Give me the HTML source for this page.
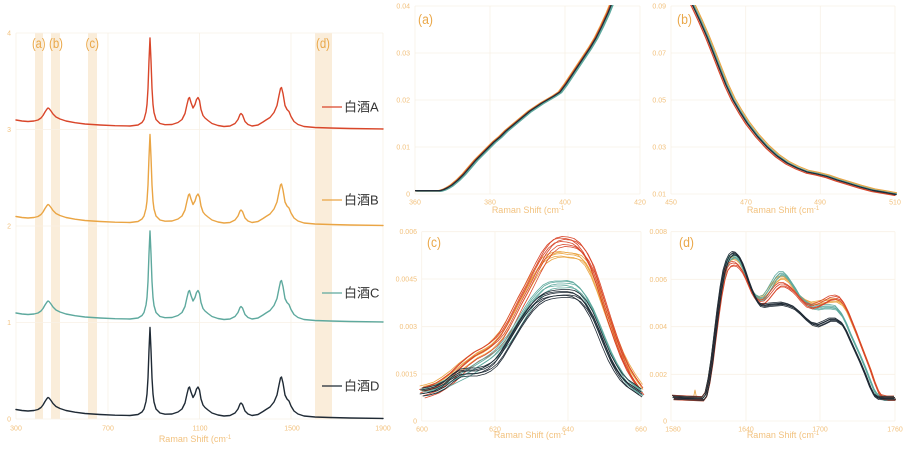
<!DOCTYPE html>
<html><head><meta charset="utf-8"><style>
html,body{margin:0;padding:0;background:#fff;}
svg{display:block;}
text{font-family:"Liberation Sans","Noto Sans CJK SC",sans-serif;}
.tk{font-size:7px;fill:#f2c27f;}
.ti{font-size:9px;fill:#f2c27f;}
.pl{font-size:13.5px;fill:#eaa84a;}
.lg{font-size:13px;fill:#333;}
.g{stroke:#f8f1e6;stroke-width:0.8;fill:none;}
.s{fill:none;stroke-linejoin:round;stroke-linecap:round;}
.t{fill:none;stroke-width:0.8;stroke-linejoin:round;}
</style></head><body>
<svg width="907" height="449" viewBox="0 0 907 449" xmlns="http://www.w3.org/2000/svg">
<defs>
<path id="sp" d="M16,-9.5 L22,-8.5 L28,-8 L34,-8.5 L38,-9.5 L41,-11.5 L43,-14 L45,-17.5 L47,-20.5 L48,-21.5 L49,-21 L51,-18.5 L53,-15.5 L56,-12.5 L60,-10.5 L66,-8.5 L75,-6.8 L85,-5.5 L100,-4.5 L115,-3.8 L130,-3.5 L138,-4.5 L142,-7 L144,-10 L146,-17.5 L147,-25 L148,-41 L149,-69 L150,-91.5 L151,-69 L152,-41 L153,-25 L154,-17 L156,-10 L160,-6 L165,-4.8 L172,-5 L178,-7 L182,-10 L185,-16 L187,-25 L188.5,-31 L189.5,-32 L191,-27 L193,-21.5 L195,-25 L196.5,-30 L198,-32 L199.5,-29 L201,-20 L203,-14 L205,-11.5 L208,-9 L212,-6 L218,-4 L224,-3 L230,-3.5 L235,-6 L238,-10 L240,-15 L241,-16 L242.5,-14.5 L245,-8 L248,-5 L252,-3.5 L258,-4.5 L263,-7.5 L266,-9.5 L270,-12 L274,-17 L277,-24 L279,-34 L280.5,-41 L281.5,-42 L283,-36 L285,-24 L287,-20 L289,-18 L291,-13 L294,-8 L298,-5 L304,-3 L315,-2 L330,-1.5 L350,-1 L383,-0.5"/>
<path id="pa" d="M415,190.7 L440,190.7 L444,189.5 L448,187.5 L452,185 L458,180 L464,174 L470,167 L476,160 L482,154 L488,148 L494,142 L500,137 L506,131 L512,126 L518,121 L524,116 L530,111 L536,107 L542,103 L548,99.5 L554,96 L560,92 L566,84 L572,75 L578,66 L584,57 L590,48 L596,38 L602,26 L608,13 L612,3"/>
<path id="pb" d="M691,2 L693,6 L700,21 L707,37 L713,52 L720,70 L726,85 L733,100 L740,112 L747,123 L757,136 L767,147 L777,156 L787,163 L797,168 L807,172 L817,174 L827,176.5 L837,180 L847,183 L860,187 L873,190.5 L885,192.5 L896,194.5"/>
<path id="cR" vector-effect="non-scaling-stroke" d="M421.7,388 L428,386 L436,383 L444,378 L452,372 L460,364 L468,357 L476,351 L484,347 L490,343 L496,338 L502,331 L508,321 L514,309 L520,297 L526,286 L532,274 L538,262 L544,251 L550,243 L556,238 L562,236.5 L568,237 L574,238.5 L580,243 L586,251 L592,263 L598,280 L604,299 L610,318 L616,336 L622,352 L628,365 L634,375 L641,385"/>
<path id="cO" vector-effect="non-scaling-stroke" d="M421.7,388 L428,386.5 L436,384 L444,379 L452,373 L460,366 L468,360 L476,354 L484,350 L490,346 L496,340 L502,333 L508,323 L514,312 L520,300 L526,289 L532,278 L538,268 L544,260 L550,256 L556,254 L562,253.5 L568,254.5 L574,255 L580,257 L586,263 L592,274 L598,289 L604,306 L610,323 L616,339 L622,354 L628,366 L634,376 L641,386"/>
<path id="cT" vector-effect="non-scaling-stroke" d="M421.7,390 L428,389 L436,386 L444,382 L452,378 L460,374 L468,370 L476,365 L484,360 L490,356 L496,351 L502,344 L508,337 L514,328 L520,318 L526,308 L532,299 L538,292 L544,286 L550,283 L556,282 L562,282 L568,281.5 L574,283 L580,288 L586,296 L592,307 L598,321 L604,336 L610,350 L616,362 L622,372 L628,380 L634,385 L641,390"/>
<path id="cD" vector-effect="non-scaling-stroke" d="M421.7,391 L428,390 L436,388 L444,384 L452,377 L460,372 L468,371 L476,371 L484,369 L490,366 L496,361 L502,353 L508,343 L514,333 L520,323 L526,314 L532,306 L538,300 L544,296 L550,294 L556,293 L562,292.5 L568,292.5 L574,293.5 L580,297 L586,304 L592,314 L598,328 L604,343 L610,357 L616,368 L622,377 L628,383 L634,387 L641,392"/>
<path id="dD" vector-effect="non-scaling-stroke" d="M673,396.7 L690,397.5 L703,398 L706,394 L709,380 L712,360 L715,335 L718,310 L721,288 L724,271 L727,261 L730,255 L733,252.5 L736,253 L739,256 L742,262 L745,270 L748,279 L751,287 L754,294 L757,300 L760,304 L764,305 L770,304 L776,303.5 L782,303 L788,304.5 L794,307 L800,312 L806,318 L812,323 L818,324.5 L824,322 L830,319 L836,319 L842,323 L846,330 L850,339 L855,350 L860,361 L865,373 L870,386 L874,394 L878,397 L885,397.5 L895,397.5"/>
<path id="dT" vector-effect="non-scaling-stroke" d="M673,396.7 L690,397.5 L703,398 L706,394 L709,380 L712,360 L715,336 L718,312 L721,290 L724,274 L727,263 L730,257 L733,255.5 L736,256 L739,259 L742,265 L745,273 L748,281 L751,288 L754,293 L757,296.5 L760,298 L764,297 L768,291 L772,284 L776,277 L780,273 L784,273 L788,277 L792,283 L796,289 L800,296 L806,302 L812,306 L818,307 L824,306 L830,306 L836,307 L842,314 L846,322 L850,332 L855,343 L860,354 L865,366 L870,379 L874,389 L878,395 L884,397.5 L895,397.5"/>
<path id="dO" vector-effect="non-scaling-stroke" d="M673,396.7 L690,397.5 L703,398 L706,394 L709,380 L712,360 L715,336 L718,312 L721,291 L724,275 L727,264 L730,258 L733,257 L736,258 L739,261 L742,266 L745,273 L748,281 L751,288 L754,293 L757,296 L760,297.5 L764,296 L768,291 L772,285 L776,280 L780,277 L784,277 L788,280 L792,285 L796,291 L800,296 L806,300.5 L812,303 L818,302 L824,301 L830,300 L836,299.5 L842,303 L846,309 L850,318 L855,330 L860,342 L865,355 L870,368 L874,380 L878,390 L882,396 L888,397.5 L895,397.5"/>
<path id="dR" vector-effect="non-scaling-stroke" d="M673,396.7 L690,397.5 L703,398 L706,394 L709,381 L712,362 L715,338 L718,315 L721,294 L724,278 L727,268 L730,264 L733,263 L736,263.5 L739,266 L742,270 L745,276 L748,283 L751,290 L754,295 L757,299 L760,301.5 L764,301 L768,297 L772,292 L776,287 L780,284 L784,284 L788,286 L792,289 L796,293 L800,298 L806,304 L812,306 L818,304 L824,301 L830,297.5 L836,296.5 L840,298 L844,303 L848,311 L852,321 L856,331 L860,342 L865,355 L870,368 L874,380 L878,390 L882,396 L888,397.5 L895,397.5"/>
<clipPath id="ca"><rect x="415" y="5" width="226" height="191"/></clipPath>
<clipPath id="cb"><rect x="671" y="5" width="226" height="191"/></clipPath>
</defs>

<!-- LEFT PANEL -->
<rect x="35" y="33" width="8" height="386" fill="#faedda"/>
<rect x="51" y="33" width="9" height="386" fill="#faedda"/>
<rect x="88" y="33" width="9" height="386" fill="#faedda"/>
<rect x="315" y="33" width="17" height="386" fill="#faedda"/>
<g class="g">
<line x1="16" y1="33" x2="383" y2="33"/><line x1="16" y1="129.5" x2="383" y2="129.5"/><line x1="16" y1="226" x2="383" y2="226"/><line x1="16" y1="322.5" x2="383" y2="322.5"/><line x1="16" y1="419" x2="383" y2="419"/>
<line x1="16" y1="33" x2="16" y2="419"/><line x1="108" y1="33" x2="108" y2="419"/><line x1="199.5" y1="33" x2="199.5" y2="419"/><line x1="291" y1="33" x2="291" y2="419"/><line x1="383" y1="33" x2="383" y2="419"/>
</g>
<text class="pl" x="32" y="48" textLength="13.5" lengthAdjust="spacingAndGlyphs">(a)</text>
<text class="pl" x="49" y="48" textLength="14" lengthAdjust="spacingAndGlyphs">(b)</text>
<text class="pl" x="85.5" y="48" textLength="13.5" lengthAdjust="spacingAndGlyphs">(c)</text>
<text class="pl" x="316" y="48" textLength="14" lengthAdjust="spacingAndGlyphs">(d)</text>
<use href="#sp" class="s" stroke="#d9462a" stroke-width="1.4" transform="translate(0,129.5)"/>
<use href="#sp" class="s" stroke="#eaa544" stroke-width="1.4" transform="translate(0,226)"/>
<use href="#sp" class="s" stroke="#5ea99e" stroke-width="1.4" transform="translate(0,322.5)"/>
<use href="#sp" class="s" stroke="#1f2a35" stroke-width="1.4" transform="translate(0,419)"/>
<g class="tk" text-anchor="end">
<text x="11" y="35.5">4</text><text x="11" y="132">3</text><text x="11" y="228.5">2</text><text x="11" y="325">1</text><text x="11" y="421.5">0</text>
</g>
<g class="tk" text-anchor="middle">
<text x="16" y="430.5">300</text><text x="108" y="430.5">700</text><text x="200" y="430.5">1100</text><text x="292" y="430.5">1500</text><text x="383" y="430.5">1900</text>
</g>
<text class="ti" x="195" y="442" text-anchor="middle">Raman Shift (cm<tspan font-size="6" dy="-3">-1</tspan></text>
<line x1="322" y1="107" x2="342" y2="107" stroke="#d9462a" stroke-width="1.3"/>
<text class="lg" x="344" y="111.5">白酒A</text>
<line x1="322" y1="200" x2="342" y2="200" stroke="#eaa544" stroke-width="1.3"/>
<text class="lg" x="344" y="204.5">白酒B</text>
<line x1="322" y1="293" x2="342" y2="293" stroke="#5ea99e" stroke-width="1.3"/>
<text class="lg" x="344" y="297.5">白酒C</text>
<line x1="322" y1="386" x2="342" y2="386" stroke="#1f2a35" stroke-width="1.3"/>
<text class="lg" x="344" y="390.5">白酒D</text>

<!-- PANEL (a) -->
<g class="g">
<line x1="415" y1="6" x2="640" y2="6"/><line x1="415" y1="53" x2="640" y2="53"/><line x1="415" y1="100" x2="640" y2="100"/><line x1="415" y1="147" x2="640" y2="147"/><line x1="415" y1="194" x2="640" y2="194"/>
<line x1="415" y1="6" x2="415" y2="194"/><line x1="490" y1="6" x2="490" y2="194"/><line x1="565" y1="6" x2="565" y2="194"/><line x1="640" y1="6" x2="640" y2="194"/>
</g>
<g clip-path="url(#ca)">
<use href="#pa" class="s" stroke="#5ea99e" stroke-width="1.2" transform="translate(1.6,0.6)"/>
<use href="#pa" class="s" stroke="#5ea99e" stroke-width="1" transform="translate(1,0.3)"/>
<use href="#pa" class="s" stroke="#eaa544" stroke-width="1.2" transform="translate(-1.8,0)"/>
<use href="#pa" class="s" stroke="#eaa544" stroke-width="1" transform="translate(-1.2,0)"/>
<use href="#pa" class="s" stroke="#d9462a" stroke-width="1" transform="translate(-1,0)"/>
<use href="#pa" class="s" stroke="#1f2a35" stroke-width="1.3"/>
</g>
<text class="pl" x="418" y="24" textLength="15" lengthAdjust="spacingAndGlyphs">(a)</text>
<g class="tk" text-anchor="end">
<text x="410" y="8.5">0.04</text><text x="410" y="55.5">0.03</text><text x="410" y="102.5">0.02</text><text x="410" y="149.5">0.01</text><text x="410" y="196.5">0</text>
</g>
<g class="tk" text-anchor="middle">
<text x="415" y="204.5">360</text><text x="490" y="204.5">380</text><text x="565" y="204.5">400</text><text x="640" y="204.5">420</text>
</g>
<text class="ti" x="528" y="213" text-anchor="middle">Raman Shift (cm<tspan font-size="6" dy="-3">-1</tspan></text>

<!-- PANEL (b) -->
<g class="g">
<line x1="671" y1="6" x2="895" y2="6"/><line x1="671" y1="53" x2="895" y2="53"/><line x1="671" y1="100" x2="895" y2="100"/><line x1="671" y1="147" x2="895" y2="147"/><line x1="671" y1="194" x2="895" y2="194"/>
<line x1="671" y1="6" x2="671" y2="194"/><line x1="745.7" y1="6" x2="745.7" y2="194"/><line x1="820.3" y1="6" x2="820.3" y2="194"/><line x1="895" y1="6" x2="895" y2="194"/>
</g>
<g clip-path="url(#cb)">
<use href="#pb" class="s" stroke="#eaa544" stroke-width="1.2" transform="translate(2,-1.5)"/>
<use href="#pb" class="s" stroke="#5ea99e" stroke-width="1.2" transform="translate(1,-0.5)"/>
<use href="#pb" class="s" stroke="#d9462a" stroke-width="1.2" transform="translate(-1.2,1)"/>
<use href="#pb" class="s" stroke="#1f2a35" stroke-width="1.4"/>
</g>
<text class="pl" x="677" y="24" textLength="15" lengthAdjust="spacingAndGlyphs">(b)</text>
<g class="tk" text-anchor="end">
<text x="666" y="8.5">0.09</text><text x="666" y="55.5">0.07</text><text x="666" y="102.5">0.05</text><text x="666" y="149.5">0.03</text><text x="666" y="196.5">0.01</text>
</g>
<g class="tk" text-anchor="middle">
<text x="671" y="204.5">450</text><text x="746" y="204.5">470</text><text x="820" y="204.5">490</text><text x="895" y="204.5">510</text>
</g>
<text class="ti" x="783" y="213" text-anchor="middle">Raman Shift (cm<tspan font-size="6" dy="-3">-1</tspan></text>

<!-- PANEL (c) -->
<g class="g">
<line x1="421.7" y1="231.7" x2="641" y2="231.7"/><line x1="421.7" y1="279" x2="641" y2="279"/><line x1="421.7" y1="326.7" x2="641" y2="326.7"/><line x1="421.7" y1="374" x2="641" y2="374"/><line x1="421.7" y1="421" x2="641" y2="421"/>
<line x1="421.7" y1="231.7" x2="421.7" y2="421"/><line x1="495" y1="231.7" x2="495" y2="421"/><line x1="568" y1="231.7" x2="568" y2="421"/><line x1="641" y1="231.7" x2="641" y2="421"/>
</g>
<g class="t" stroke="#eaa544">
<use href="#cO"/><use href="#cO" transform="translate(1.5,-1.5)"/><use href="#cO" transform="translate(-1,2.5)"/><use href="#cO" transform="translate(2,3.5)"/><use href="#cO" transform="translate(-2,-2)"/>
</g>
<g class="t" stroke="#d9462a">
<use href="#cR"/><use href="#cR" transform="translate(2,3)"/><use href="#cR" transform="translate(-1.5,5)"/><use href="#cR" transform="translate(1,8)"/><use href="#cR" transform="translate(-2.5,1.5)"/><use href="#cR" transform="translate(3,10)"/>
</g>
<g class="t" stroke="#5ea99e">
<use href="#cT"/><use href="#cT" transform="translate(1.5,2)"/><use href="#cT" transform="translate(-1.5,4)"/><use href="#cT" transform="translate(2,6)"/><use href="#cT" transform="translate(-1,-1)"/>
</g>
<g class="t" stroke="#1f2a35">
<use href="#cD"/><use href="#cD" transform="translate(1.5,2.5)"/><use href="#cD" transform="translate(-1.5,-1)"/><use href="#cD" transform="translate(1,5)"/><use href="#cD" transform="translate(-2,3)"/><use href="#cD" transform="translate(0.5,-3)"/>
</g>
<text class="pl" x="427" y="247" textLength="14" lengthAdjust="spacingAndGlyphs">(c)</text>
<g class="tk" text-anchor="end">
<text x="417" y="234">0.006</text><text x="417" y="281.5">0.0045</text><text x="417" y="329">0.003</text><text x="417" y="376.5">0.0015</text><text x="417" y="423.5">0</text>
</g>
<g class="tk" text-anchor="middle">
<text x="422" y="431.5">600</text><text x="495" y="431.5">620</text><text x="568" y="431.5">640</text><text x="641" y="431.5">660</text>
</g>
<text class="ti" x="530" y="438" text-anchor="middle">Raman Shift (cm<tspan font-size="6" dy="-3">-1</tspan></text>

<!-- PANEL (d) -->
<g class="g">
<line x1="671" y1="231.7" x2="895" y2="231.7"/><line x1="671" y1="279.3" x2="895" y2="279.3"/><line x1="671" y1="326.7" x2="895" y2="326.7"/><line x1="671" y1="374.3" x2="895" y2="374.3"/><line x1="671" y1="421" x2="895" y2="421"/>
<line x1="671" y1="231.7" x2="671" y2="421"/><line x1="746" y1="231.7" x2="746" y2="421"/><line x1="820" y1="231.7" x2="820" y2="421"/><line x1="895" y1="231.7" x2="895" y2="421"/>
</g>
<path d="M693.5,397.5 L695,390 L696.5,397.5" class="t" stroke="#eaa544"/>
<g class="t" stroke="#eaa544">
<use href="#dO"/><use href="#dO" transform="translate(1,1.5)"/><use href="#dO" transform="translate(-1,-1)"/><use href="#dO" transform="translate(0.5,2.5)"/>
</g>
<g class="t" stroke="#5ea99e">
<use href="#dT"/><use href="#dT" transform="translate(1,2)"/><use href="#dT" transform="translate(-1,-1.5)"/><use href="#dT" transform="translate(0.5,3)"/><use href="#dT" transform="translate(-0.5,1)"/>
</g>
<g class="t" stroke="#d9462a">
<use href="#dR"/><use href="#dR" transform="translate(1,2)"/><use href="#dR" transform="translate(-1,-1.5)"/><use href="#dR" transform="translate(0.5,3)"/>
</g>
<g class="t" stroke="#1f2a35">
<use href="#dD"/><use href="#dD" transform="translate(1,1.5)"/><use href="#dD" transform="translate(-1,-1)"/><use href="#dD" transform="translate(0.5,2.5)"/><use href="#dD" transform="translate(-0.5,0.8)"/>
</g>
<text class="pl" x="679" y="247" textLength="15" lengthAdjust="spacingAndGlyphs">(d)</text>
<g class="tk" text-anchor="end">
<text x="667" y="234">0.008</text><text x="667" y="281.8">0.006</text><text x="667" y="329.2">0.004</text><text x="667" y="376.8">0.002</text><text x="667" y="423.5">0</text>
</g>
<g class="tk" text-anchor="middle">
<text x="673" y="431.5">1580</text><text x="746" y="431.5">1640</text><text x="820" y="431.5">1700</text><text x="895" y="431.5">1760</text>
</g>
<text class="ti" x="783" y="438" text-anchor="middle">Raman Shift (cm<tspan font-size="6" dy="-3">-1</tspan></text>
</svg>
</body></html>
